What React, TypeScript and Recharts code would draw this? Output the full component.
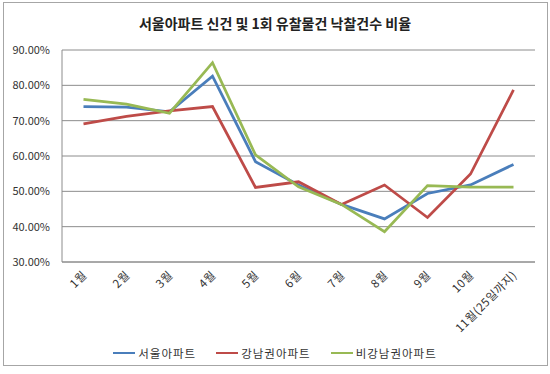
import { LineChart, Line, XAxis, YAxis, CartesianGrid } from 'recharts';

const months = ['1월', '2월', '3월', '4월', '5월', '6월', '7월', '8월', '9월', '10월', '11월(25일까지)'];
const seoul = [74.0, 73.8, 72.5, 82.6, 58.4, 51.8, 46.3, 42.2, 49.4, 51.8, 57.6];
const gangnam = [69.1, 71.2, 72.8, 74.0, 51.1, 52.7, 46.3, 51.8, 42.6, 54.9, 78.7];
const nonGangnam = [76.0, 74.7, 72.1, 86.4, 60.3, 51.3, 46.3, 38.6, 51.6, 51.2, 51.2];
const yTicks = [30, 40, 50, 60, 70, 80, 90];

const SERIES = [
  { key: 'seoul', name: '서울아파트', color: '#4a7ebb' },
  { key: 'gangnam', name: '강남권아파트', color: '#be4b48' },
  { key: 'nonGangnam', name: '비강남권아파트', color: '#98b954' },
];

const data = months.map((m, i) => ({
  month: m,
  seoul: seoul[i],
  gangnam: gangnam[i],
  nonGangnam: nonGangnam[i],
}));

const FONT = '"Noto Sans CJK KR", "Noto Sans", sans-serif';

function XTick({ x, y, payload }: any) {
  const tx = x + 4;
  const ty = y + 6;
  return (
    <text
      x={tx}
      y={ty}
      textAnchor="end"
      fontSize={11.5}
      letterSpacing={0.5}
      fill="#333"
      fontFamily={FONT}
      transform={`rotate(-45, ${tx}, ${ty})`}
    >
      {payload.value}
    </text>
  );
}

function ChartLegend() {
  return (
    <div
      style={{
        position: 'absolute', left: 0, top: 345, width: 550,
        display: 'flex', justifyContent: 'center',
        fontFamily: FONT, fontSize: 11.5, color: '#333',
      }}
    >
      {SERIES.map((s) => (
        <div key={s.key} style={{ display: 'flex', alignItems: 'center', margin: '0 10px' }}>
          <span style={{ display: 'inline-block', width: 22, height: 2, background: s.color, marginRight: 3 }} />
          <span style={{ letterSpacing: 1 }}>{s.name}</span>
        </div>
      ))}
    </div>
  );
}

export default function App() {
  return (
    <div style={{ position: 'relative', width: 550, height: 374, background: '#fff' }}>
      <style>{'body{margin:0}'}</style>
      <div
        style={{
          position: 'absolute', left: 3, top: 2, width: 543, height: 362,
          border: '1px solid #a6a6a6', pointerEvents: 'none',
        }}
      />
      <div
        style={{
          position: 'absolute', left: 0, top: 13, width: 550, textAlign: 'center',
          fontFamily: FONT, fontSize: 14, fontWeight: 'bold', color: '#222',
        }}
      >
        서울아파트 신건 및 1회 유찰물건 낙찰건수 비율
      </div>
      <LineChart width={550} height={374} data={data} margin={{ top: 50, right: 15, bottom: 22, left: 0 }}>
        <CartesianGrid vertical={false} stroke="#8c8c8c" />
        <XAxis
          dataKey="month"
          height={90}
          interval={0}
          padding={{ left: 21.5, right: 21.5 }}
          tickLine={false}
          axisLine={{ stroke: '#8c8c8c' }}
          tick={<XTick />}
        />
        <YAxis
          width={62}
          domain={[30, 90]}
          ticks={yTicks}
          tickLine={false}
          tickMargin={6}
          axisLine={{ stroke: '#8c8c8c' }}
          tickFormatter={(v) => `${v.toFixed(2)}%`}
          tick={{ fontSize: 11, fill: '#333', fontFamily: FONT }}
        />
        {SERIES.map((s) => (
          <Line
            key={s.key}
            dataKey={s.key}
            name={s.name}
            stroke={s.color}
            strokeWidth={2.75}
            dot={false}
            type="linear"
            isAnimationActive={false}
          />
        ))}
      </LineChart>
      <ChartLegend />
    </div>
  );
}
